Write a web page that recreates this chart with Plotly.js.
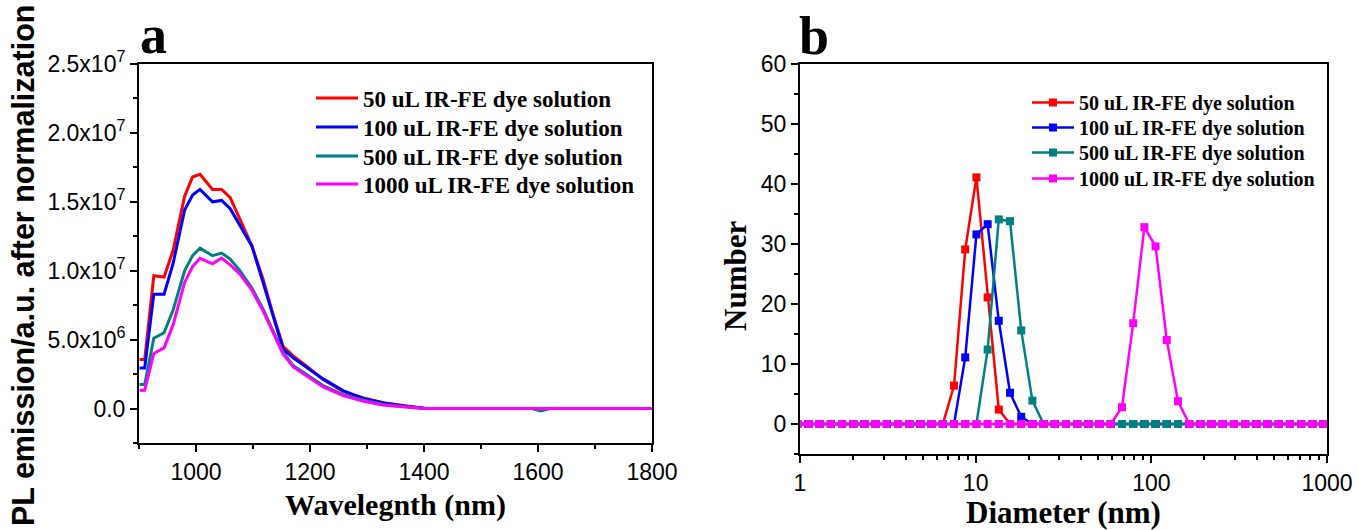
<!DOCTYPE html>
<html>
<head>
<meta charset="utf-8">
<script src="https://cdn.plot.ly/plotly-3.0.1.min.js"></script>
<style>html,body{margin:0;padding:0;background:#fff;}#chart{width:1358px;height:530px;}</style>
</head>
<body>
<div id="chart"></div>
<script>
// ---------- Panel a: PL emission ----------
const seriesNames = ["50 uL IR-FE dye solution", "100 uL IR-FE dye solution", "500 uL IR-FE dye solution", "1000 uL IR-FE dye solution"];
const seriesColors = ["#FF0000", "#0000FF", "#008080", "#FF00FF"];

const wavelength = [901, 910, 926, 944, 960, 980, 994, 1007, 1029, 1045, 1060, 1077, 1098, 1118, 1136, 1153, 1171, 1194, 1223, 1258, 1294, 1330, 1370, 1400, 1450, 1500, 1550, 1590, 1605, 1620, 1650, 1700, 1750, 1800];
const pl50   = [3.55e6, 3.55e6, 9.64e6, 9.54e6, 1.15e7, 1.54e7, 1.68e7, 1.70e7, 1.59e7, 1.59e7, 1.53e7, 1.37e7, 1.18e7, 9.35e6, 6.7e6, 4.5e6, 3.8e6, 3.07e6, 2.1e6, 1.25e6, 7.7e5, 4.0e5, 1.7e5, 3e4, 0, 0, 0, 0, 0, 0, 0, 0, 0, 0];
const pl100  = [2.95e6, 2.95e6, 8.3e6, 8.3e6, 1.056e7, 1.44e7, 1.55e7, 1.59e7, 1.50e7, 1.51e7, 1.45e7, 1.33e7, 1.18e7, 9.1e6, 6.6e6, 4.3e6, 3.67e6, 3.0e6, 2.15e6, 1.3e6, 7.2e5, 4.0e5, 1.5e5, 2e4, 0, 0, 0, 0, -1.2e5, 0, 0, 0, 0, 0];
const pl500  = [1.74e6, 1.74e6, 5.1e6, 5.5e6, 7.17e6, 1.0e7, 1.11e7, 1.164e7, 1.109e7, 1.128e7, 1.085e7, 1.0e7, 8.75e6, 7.2e6, 5.55e6, 4.05e6, 3.1e6, 2.45e6, 1.67e6, 1.01e6, 6.0e5, 3.0e5, 1.0e5, 0, 0, 0, 0, 0, -1.8e5, 0, 0, 0, 0, 0];
const pl1000 = [1.33e6, 1.33e6, 4.0e6, 4.4e6, 6.09e6, 9.15e6, 1.03e7, 1.09e7, 1.05e7, 1.092e7, 1.043e7, 9.75e6, 8.6e6, 7.05e6, 5.45e6, 3.95e6, 3.0e6, 2.35e6, 1.57e6, 9.4e5, 5.3e5, 2.4e5, 8e4, 0, 0, 0, 0, 0, 0, 0, 0, 0, 0, 0];

const plTickVals = [0, 5e6, 1e7, 1.5e7, 2e7, 2.5e7];
const plTickText = ["0.0", "5.0x10<sup>6</sup>", "1.0x10<sup>7</sup>", "1.5x10<sup>7</sup>", "2.0x10<sup>7</sup>", "2.5x10<sup>7</sup>"];
const wlTickVals = [1000, 1200, 1400, 1600, 1800];

// ---------- Panel b: size distribution ----------
const diameter = [0.9649, 1.117, 1.294, 1.499, 1.736, 2.010, 2.328, 2.696, 3.122, 3.615, 4.187, 4.849, 5.615, 6.503, 7.531, 8.721, 10.10, 11.70, 13.54, 15.69, 18.17, 21.04, 24.36, 28.21, 32.67, 37.84, 43.82, 50.75, 58.77, 68.06, 78.82, 91.28, 105.7, 122.4, 141.8, 164.2, 190.1, 220.2, 255.0, 295.3, 342.0, 396.1, 458.7, 531.2, 615.1, 712.4, 825.0, 955.4, 1106];
const num50   = [0,0,0,0,0,0,0,0,0,0,0,0,0,0, 6.4, 29.1, 41.1, 21.1, 2.4, 0,0,0,0,0,0,0,0,0,0,0,0,0,0,0,0,0,0,0,0,0,0,0,0,0,0,0,0,0,0];
const num100  = [0,0,0,0,0,0,0,0,0,0,0,0,0,0,0, 11.1, 31.6, 33.3, 17.2, 5.2, 1.2, 0,0,0,0,0,0,0,0,0,0,0,0,0,0,0,0,0,0,0,0,0,0,0,0,0,0,0,0];
const num500  = [0,0,0,0,0,0,0,0,0,0,0,0,0,0,0,0,0, 12.4, 34.1, 33.8, 15.6, 3.9, 0,0,0,0,0,0,0,0,0,0,0,0,0,0,0,0,0,0,0,0,0,0,0,0,0,0,0,0,0];
const num1000 = [0,0,0,0,0,0,0,0,0,0,0,0,0,0,0,0,0,0,0,0,0,0,0,0,0,0,0,0,0, 2.8, 16.8, 32.8, 29.6, 14.0, 3.8, 0,0,0,0,0,0,0,0,0,0,0,0,0,0];

const diaTickVals = [1, 10, 100, 1000];
const diaTickText = ["1", "10", "100", "1000"];
const diaMinorVals = [2,3,4,5,6,7,8,9,20,30,40,50,60,70,80,90,200,300,400,500,600,700,800,900];
const numTickVals = [0, 10, 20, 30, 40, 50, 60];

const plSeries = [pl50, pl100, pl500, pl1000];
const numSeries = [num50, num100, num500, num1000];

const serif = "Liberation Serif, Times New Roman, serif";
const sans = "Liberation Sans, Arial, sans-serif";

// legend ids: one per entry so each row can be placed like the reference
const legA = ["legend", "legend2", "legend3", "legend4"];
const legB = ["legend5", "legend6", "legend7", "legend8"];

const traces = [];
plSeries.forEach((ys, i) => {
  traces.push({
    x: wavelength, y: ys, type: "scatter", mode: "lines",
    name: seriesNames[i], line: {color: seriesColors[i], width: 3},
    xaxis: "x", yaxis: "y", legend: legA[i]
  });
});
numSeries.forEach((ys, i) => {
  traces.push({
    x: diameter, y: ys, type: "scatter", mode: "lines+markers",
    name: seriesNames[i], line: {color: seriesColors[i], width: 2.5},
    marker: {symbol: "square", size: 8, color: seriesColors[i]},
    xaxis: "x2", yaxis: "y2", legend: legB[i]
  });
});

const minorBase = {ticks: "outside", ticklen: 4, tickwidth: 2, tickcolor: "#000"};
const axBase = {
  showline: true, linecolor: "#000", linewidth: 2, mirror: true,
  ticks: "outside", ticklen: 7, tickwidth: 2, tickcolor: "#000",
  showgrid: false, zeroline: false,
  tickfont: {family: sans, size: 23, color: "#000"}
};

const layout = {
  width: 1358, height: 530,
  margin: {l: 0, r: 0, t: 0, b: 0},
  paper_bgcolor: "#fff", plot_bgcolor: "#fff",
  showlegend: true,
  xaxis: Object.assign({}, axBase, {
    domain: [139/1358, 652/1358], range: [900, 1800],
    tickvals: wlTickVals,
    minor: Object.assign({}, minorBase, {dtick: 100, tick0: 900}),
    title: {text: "Wavelegnth (nm)", font: {family: serif, size: 30, weight: "bold", color: "#000"}, standoff: 10},
    anchor: "y"
  }),
  yaxis: Object.assign({}, axBase, {
    domain: [1 - 443/530, 1 - 64/530], range: [-2.5e6, 2.5e7],
    tickvals: plTickVals, ticktext: plTickText,
    minor: Object.assign({}, minorBase, {dtick: 2.5e6, tick0: 0}),
    anchor: "x"
  }),
  xaxis2: Object.assign({}, axBase, {
    domain: [800/1358, 1327/1358], type: "log", range: [0, 3],
    tickvals: diaTickVals, ticktext: diaTickText,
    minor: Object.assign({}, minorBase, {tickvals: diaMinorVals}),
    title: {text: "Diameter (nm)", font: {family: serif, size: 31, weight: "bold", color: "#000"}, standoff: 8},
    anchor: "y2"
  }),
  yaxis2: Object.assign({}, axBase, {
    domain: [1 - 454/530, 1 - 64/530], range: [-5, 60],
    tickvals: numTickVals,
    minor: Object.assign({}, minorBase, {dtick: 5, tick0: 0}),
    anchor: "x2"
  }),
  annotations: [
    {text: "a", xref: "paper", yref: "paper", x: 138/1358, y: 1 - 67/530, xanchor: "left", yanchor: "bottom", showarrow: false,
     font: {family: serif, size: 54, weight: "bold", color: "#000"}},
    {text: "b", xref: "paper", yref: "paper", x: 797/1358, y: 1 - 68/530, xanchor: "left", yanchor: "bottom", showarrow: false,
     font: {family: serif, size: 54, weight: "bold", color: "#000"}},
    {text: "PL emission/a.u. after normalization", xref: "paper", yref: "paper", x: 23/1358, y: 1 - 266/530,
     xanchor: "center", yanchor: "middle", textangle: -90, showarrow: false,
     font: {family: sans, size: 30.5, weight: "bold", color: "#000"}},
    {text: "Number", xref: "paper", yref: "paper", x: 735/1358, y: 1 - 276/530,
     xanchor: "center", yanchor: "middle", textangle: -90, showarrow: false,
     font: {family: serif, size: 31, weight: "bold", color: "#000"}}
  ]
};

const legARowTop = [76.5, 105.5, 134.5, 162.5];
const legBRowTop = [83, 108, 133, 159];
legA.forEach((id, i) => {
  layout[id] = {
    x: 311/1358, y: 1 - legARowTop[i]/530, xanchor: "left", yanchor: "top",
    bgcolor: "rgba(0,0,0,0)", borderwidth: 0, itemwidth: 42,
    font: {family: serif, size: 23, weight: "bold", color: "#000"}
  };
});
legB.forEach((id, i) => {
  layout[id] = {
    x: 1027/1358, y: 1 - legBRowTop[i]/530, xanchor: "left", yanchor: "top",
    bgcolor: "rgba(0,0,0,0)", borderwidth: 0, itemwidth: 42,
    font: {family: serif, size: 20, weight: "bold", color: "#000"}
  };
});

Plotly.newPlot("chart", traces, layout, {displayModeBar: false, staticPlot: true});
</script>
</body>
</html>
